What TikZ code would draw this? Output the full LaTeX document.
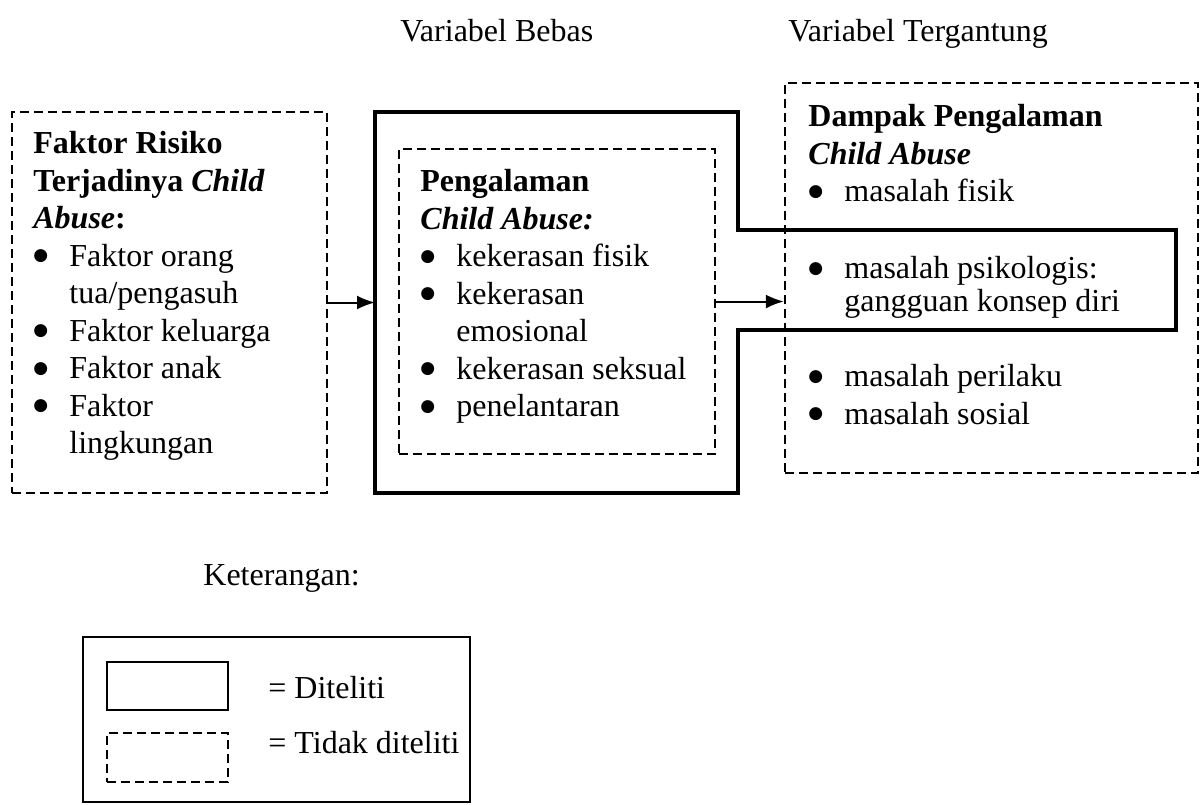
\documentclass[tikz,border=0pt]{standalone}
\usepackage{fontspec}
\setmainfont{Liberation Serif}
\newfontfamily\simbol{DejaVu Sans}
\usetikzlibrary{arrows.meta}

\tikzset{
  tdk/.style={draw, line width=1.2pt, dash pattern=on 4.5pt off 2.5pt},
  dtl/.style={draw, line width=1.8pt},
  teks/.style={anchor=north west, inner sep=0pt, align=left},
  judul/.style={anchor=base west, inner sep=0pt},
  panah/.style={line width=1pt, -{Latex[length=9pt,width=7pt]}}
}
\newcommand{\butir}[1]{\makebox[18pt][l]{\raisebox{2.6pt}{\simbol\fontsize{8.5}{8.5}\selectfont ●}}#1}
\newcommand{\lanjut}{\hspace*{18pt}}

\begin{document}
\begin{tikzpicture}[x=0.5pt,y=-0.5pt,font=\fontsize{16}{18.75}\selectfont]
          \useasboundingbox[fill=white] (0,0) rectangle (1203,804);
          \node[judul] (bebasJdl) at (400,41) {Variabel Bebas};
          \node[judul] (tergantungJdl) at (788,41) {Variabel Tergantung};
          % kotak-kotak
          \node[tdk, minimum width=157.5pt, minimum height=190.5pt] (risiko) at (169.5,302.5) {};
          \node[tdk, minimum width=158pt, minimum height=152.5pt] (pengalaman) at (557,301.5) {};
          \node[tdk, minimum width=206.5pt, minimum height=195pt] (dampak) at (991.5,278) {};
          \draw[dtl] (375,112) -- (738,112) -- (738,230) -- (1176,230) -- (1176,330)
                -- (738,330) -- (738,493) -- (375,493) -- cycle;
          \coordinate (bebas) at (375,302.5);
          \draw[panah] (risiko.east) -- (bebas);
          \draw[panah] (pengalaman.east) -- (pengalaman.east -| dampak.west);
          % isi
          \node[teks] (risikoTeks) at (33,131) {\textbf{Faktor Risiko}\\ \textbf{Terjadinya \textit{Child}}\\
                \textbf{\textit{Abuse}:}\\ \butir{Faktor orang}\\ \lanjut tua/pengasuh\\ \butir{Faktor keluarga}\\
                \butir{Faktor anak}\\ \butir{Faktor}\\ \lanjut lingkungan};
          \node[teks] (pengalamanTeks) at (420,169) {\textbf{Pengalaman}\\ \textbf{\textit{Child Abuse:}}\\
                \butir{kekerasan fisik}\\ \butir{kekerasan}\\ \lanjut emosional\\ \butir{kekerasan seksual}\\
                \butir{penelantaran}};
          \node[teks] (dampakTeks) at (808,104) {\textbf{Dampak Pengalaman}\\ \textbf{\textit{Child Abuse}}\\
                \butir{masalah fisik}};
          \node[teks, font=\fontsize{16}{16.5}\selectfont] (psikologisTeks) at (808,256)
                {\butir{masalah psikologis:}\\ \lanjut gangguan konsep diri};
          \node[teks] (perilakuTeks) at (808,364) {\butir{masalah perilaku}\\ \butir{masalah sosial}};
          % keterangan
          \node[judul] (ketJdl) at (203,585) {Keterangan:};
          \node[draw, line width=1pt, minimum width=193.5pt, minimum height=82.5pt] (ket) at (276.5,719.5) {};
          \node[draw, line width=1.1pt, minimum width=60.5pt, minimum height=24pt] (contohDtl) at (167.5,686) {};
          \node[tdk, minimum width=60.5pt, minimum height=24.5pt] (contohTdk) at (167.5,757.5) {};
          \node[judul] (dtlTeks) at (268,698) {= Diteliti};
          \node[judul] (tdkTeks) at (268,753) {= Tidak diteliti};
\end{tikzpicture}
\end{document}
